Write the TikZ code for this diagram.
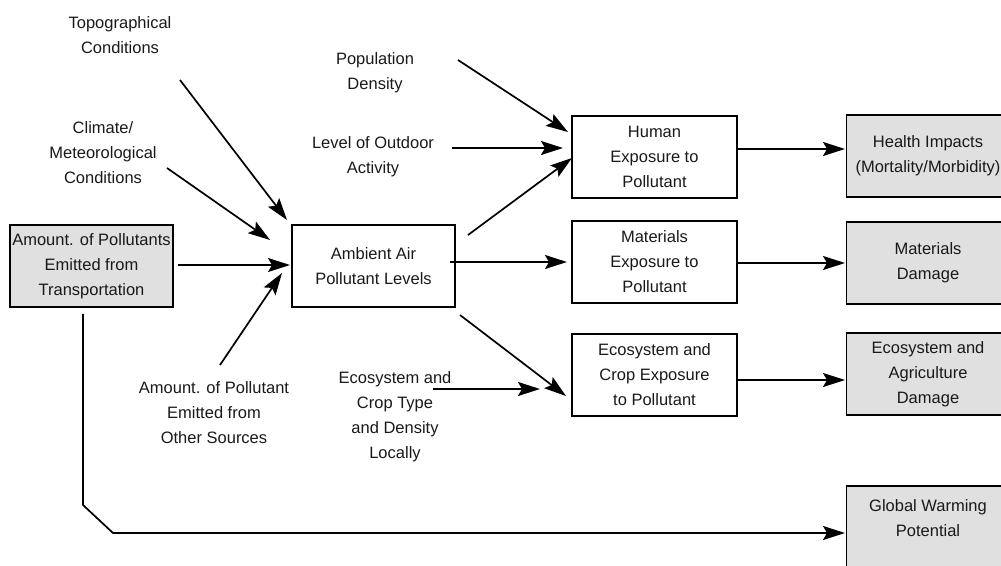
\documentclass[tikz,border=0pt]{standalone}
\usepackage{fontspec}
\setmainfont{Liberation Sans}
\usetikzlibrary{arrows.meta}
\definecolor{boxgray}{RGB}{224,224,224}
\begin{document}
\begin{tikzpicture}[x=1pt,y=-1pt,
  every node/.style={font=\fontsize{16.5}{25}\selectfont, align=center, inner sep=0pt, text=black!90},
  box/.style={draw, line width=1.5pt, minimum width=163pt, minimum height=82pt},
  outbox/.style={box, fill=boxgray},
  arr/.style={line width=1.7pt, -{Stealth[length=22pt,width=14pt,inset=4pt]}},
]
\useasboundingbox (0,0) rectangle (1001,565);
\clip (0,0) rectangle (1001,565);

% boxes
\node[outbox] (src) at (91.5,266) {Amount. of Pollutants\\Emitted from\\Transportation};
\node[box] (amb) at (373.5,266) {Ambient Air\\Pollutant Levels};
\node[box, minimum width=165pt] (hum) at (654.5,157) {Human\\Exposure to\\Pollutant};
\node[box, minimum width=165pt] (mat) at (654.5,262) {Materials\\Exposure to\\Pollutant};
\node[box, minimum width=165pt] (eco) at (654.5,375) {Ecosystem and\\Crop Exposure\\to Pollutant};
\node[outbox] (hea) at (928,156) {Health Impacts\\(Mortality/Morbidity)};
\node[outbox] (matd) at (928,263) {Materials\\Damage};
\node[outbox] (ecod) at (928,374) {Ecosystem and\\Agriculture\\Damage};
\node[outbox, minimum height=90pt] (gw) at (928,531) {Global Warming\\Potential\\\mbox{}};

% labels
\node (topo) at (120,35) {Topographical\\Conditions};
\node (clim) at (103,153) {Climate/\\Meteorological\\Conditions};
\node (oth) at (214,413) {Amount. of Pollutant\\Emitted from\\Other Sources};
\node (pop) at (375,73) {Population\\Density};
\node (outd) at (373,157) {Level of Outdoor\\Activity};
\node (crop) at (395,417) {Ecosystem and\\Crop Type\\and Density\\Locally};

% connector end points
\coordinate (topoS) at (180,80);
\coordinate (topoE) at (287,220);
\coordinate (climS) at (167,168);
\coordinate (climE) at (270,240);
\coordinate (othS) at (220,365);
\coordinate (othE) at (282,273);
\coordinate (srcS) at (178,265);
\coordinate (srcE) at (290,265);
\coordinate (ahS) at (468,235);
\coordinate (ahE) at (572,158);
\coordinate (amS) at (450,262);
\coordinate (amE) at (567,262);
\coordinate (aeS) at (460,315);
\coordinate (aeE) at (566,396);
\coordinate (popS) at (458,60);
\coordinate (popE) at (568,132);
\coordinate (outS) at (452,148);
\coordinate (outE) at (563,148);
\coordinate (cropS) at (433,389);
\coordinate (cropE) at (540,389);
\coordinate (gwA) at (83,505);
\coordinate (gwB) at (113,533);

\draw[arr] (topoS) -- (topoE);
\draw[arr] (climS) -- (climE);
\draw[arr] (othS) -- (othE);
\draw[arr] (srcS) -- (srcE);
\draw[arr] (ahS) -- (ahE);
\draw[arr] (amS) -- (amE);
\draw[arr] (aeS) -- (aeE);
\draw[arr] (popS) -- (popE);
\draw[arr] (outS) -- (outE);
\draw[arr] (cropS) -- (cropE);
\draw[arr] (hum.east |- 0,149) -- (845,149);
\draw[arr] (mat.east |- 0,263) -- (845,263);
\draw[arr] (eco.east |- 0,380) -- (845,380);
\draw[arr] ([yshift=-6pt]src.south -| 83,0) -- (gwA) -- (gwB) -- (845,533);
\end{tikzpicture}
\end{document}
